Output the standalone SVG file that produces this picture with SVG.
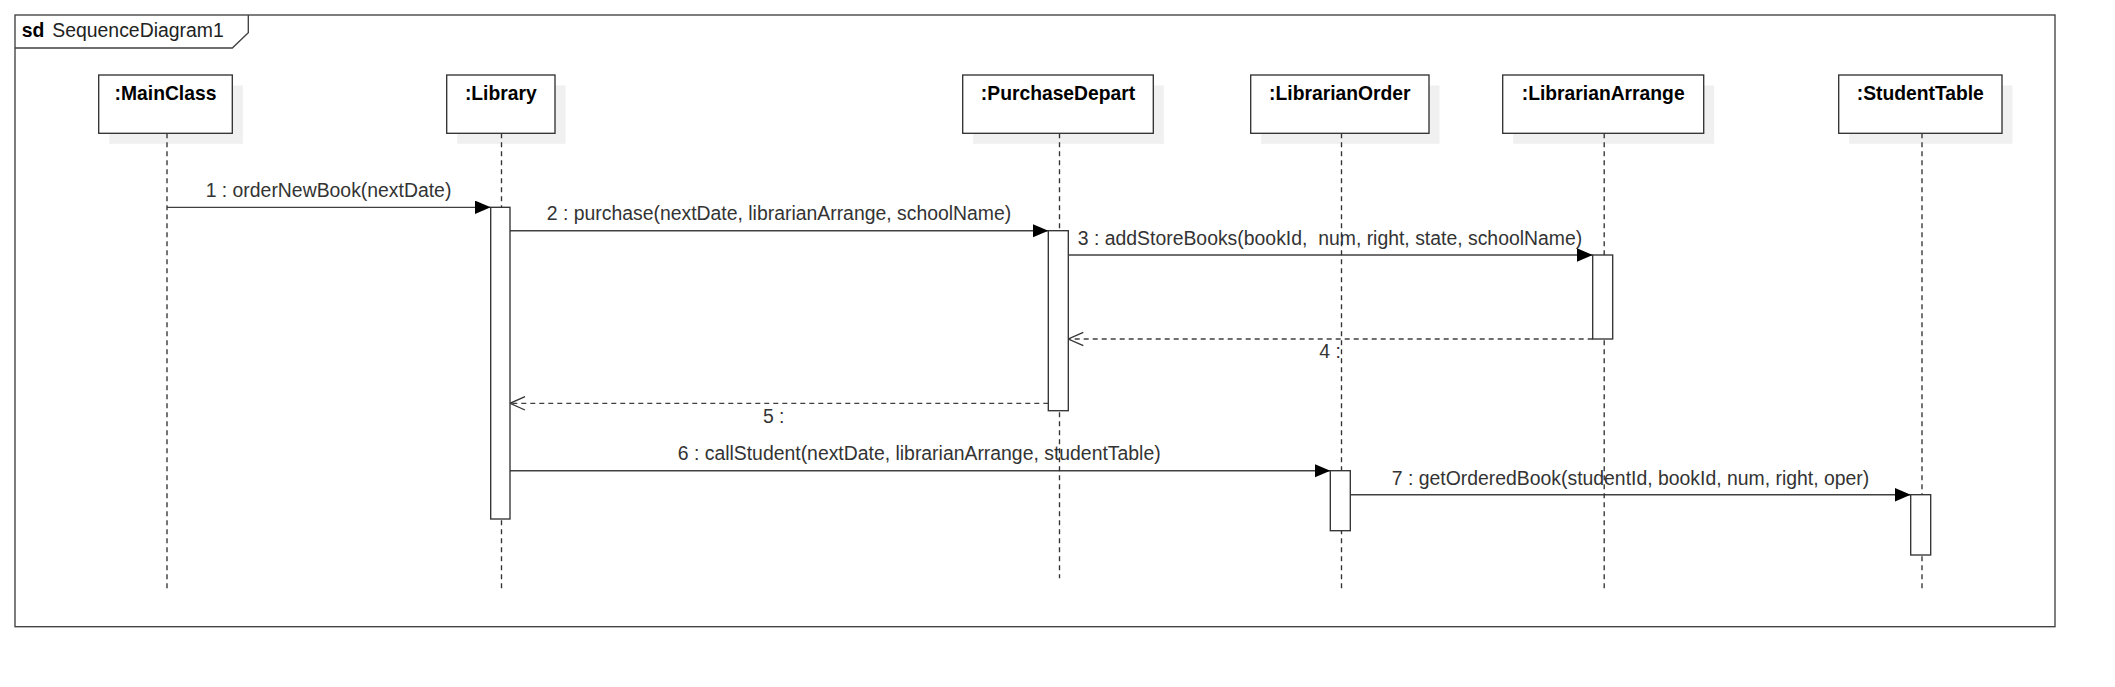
<svg xmlns="http://www.w3.org/2000/svg" width="2115" height="687" viewBox="0 0 2115 687">
  <style>
    .frame { fill: none; stroke: #404040; stroke-width: 1.35; }
    .head { fill: #ffffff; stroke: #333333; stroke-width: 1.35; }
    .shadow { fill: #f0f0f0; stroke: none; }
    .life { fill: none; stroke: #333333; stroke-width: 1.35; stroke-dasharray: 5 4; }
    .act { fill: #ffffff; stroke: #333333; stroke-width: 1.35; }
    .msg { fill: none; stroke: #404040; stroke-width: 1.35; }
    .ret { fill: none; stroke: #404040; stroke-width: 1.35; stroke-dasharray: 5 4; }
    .hl { font-family: "Liberation Sans", Arial, sans-serif; font-size: 19.3px; font-weight: bold; fill: #000000; text-anchor: middle; }
    .ml { font-family: "Liberation Sans", Arial, sans-serif; font-size: 19.4px; fill: #333333; text-anchor: middle; }
    .ft { font-family: "Liberation Sans", Arial, sans-serif; font-size: 19.4px; fill: #000000; }
  </style>
  <defs>
    <marker id="filled" markerUnits="userSpaceOnUse" markerWidth="17" markerHeight="15" refX="15.7" refY="6.7" orient="auto">
      <path d="M0,0 L15.7,6.7 L0,13.4 Z" fill="#000000" stroke="none"/>
    </marker>
    <marker id="open" markerUnits="userSpaceOnUse" markerWidth="18" markerHeight="17" refX="16" refY="7.7" orient="auto">
      <path d="M1,1 L16,7.7 L1,14.4" fill="none" stroke="#333333" stroke-width="1.35"/>
    </marker>
  </defs>

  <g id="frame">
    <rect class="frame" x="15" y="15" width="2040" height="611.7"/>
    <path class="frame" d="M15,48 L232.3,48 L248.3,32.7 L248.3,15"/>
    <text class="ft" y="36.7"><tspan x="21.7" font-weight="bold">sd</tspan><tspan x="52.3" fill="#222222">SequenceDiagram1</tspan></text>
  </g>

  <g id="connectors">
    <line class="msg" x1="167" y1="207.3" x2="490.7" y2="207.3" marker-end="url(#filled)"/>
    <text class="ml" x="328.5" y="196.7">1 : orderNewBook(nextDate)</text>

    <line class="msg" x1="510" y1="230.7" x2="1048.3" y2="230.7" marker-end="url(#filled)"/>
    <text class="ml" x="779" y="220">2 : purchase(nextDate, librarianArrange, schoolName)</text>

    <line class="msg" x1="1068.3" y1="255" x2="1592.7" y2="255" marker-end="url(#filled)"/>
    <text class="ml" x="1330" y="245" xml:space="preserve">3 : addStoreBooks(bookId,  num, right, state, schoolName)</text>

    <line class="ret" x1="1592.7" y1="339" x2="1068.3" y2="339" marker-end="url(#open)"/>
    <text class="ml" x="1330" y="358.3">4 :</text>

    <line class="ret" x1="1048.3" y1="403.3" x2="510" y2="403.3" marker-end="url(#open)"/>
    <text class="ml" x="773.7" y="423.3">5 :</text>

    <line class="msg" x1="510" y1="470.7" x2="1330.3" y2="470.7" marker-end="url(#filled)"/>
    <text class="ml" x="919.2" y="460">6 : callStudent(nextDate, librarianArrange, studentTable)</text>

    <line class="msg" x1="1350.3" y1="494.7" x2="1910.7" y2="494.7" marker-end="url(#filled)"/>
    <text class="ml" x="1630.5" y="485">7 : getOrderedBook(studentId, bookId, num, right, oper)</text>
  </g>

  <g id="MainClass">
    <rect class="shadow" x="109.3" y="85.5" width="133.6" height="58.3"/>
    <rect class="head" x="98.7" y="75" width="133.6" height="58.3"/>
    <text class="hl" x="165.5" y="100">:MainClass</text>
    <line class="life" x1="167" y1="133.3" x2="167" y2="589.3"/>
  </g>

  <g id="Library">
    <rect class="shadow" x="457.2" y="85.5" width="108.3" height="58.3"/>
    <rect class="head" x="446.7" y="75" width="108.3" height="58.3"/>
    <text class="hl" x="500.8" y="100">:Library</text>
    <line class="life" x1="501.5" y1="133.3" x2="501.5" y2="589.3"/>
    <rect class="act" x="490.7" y="207.3" width="19.3" height="311.7"/>
  </g>

  <g id="PurchaseDepart">
    <rect class="shadow" x="973.2" y="85.5" width="190.6" height="58.3"/>
    <rect class="head" x="962.7" y="75" width="190.6" height="58.3"/>
    <text class="hl" x="1058" y="100">:PurchaseDepart</text>
    <line class="life" x1="1059.5" y1="133.3" x2="1059.5" y2="578.3"/>
    <rect class="act" x="1048.3" y="230.7" width="20" height="180"/>
  </g>

  <g id="LibrarianOrder">
    <rect class="shadow" x="1261.2" y="85.5" width="178.3" height="58.3"/>
    <rect class="head" x="1250.7" y="75" width="178.3" height="58.3"/>
    <text class="hl" x="1339.8" y="100">:LibrarianOrder</text>
    <line class="life" x1="1341.5" y1="133.3" x2="1341.5" y2="589.3"/>
    <rect class="act" x="1330.3" y="470.7" width="20" height="60"/>
  </g>

  <g id="LibrarianArrange">
    <rect class="shadow" x="1513.2" y="85.5" width="201" height="58.3"/>
    <rect class="head" x="1502.7" y="75" width="201" height="58.3"/>
    <text class="hl" x="1603.2" y="100">:LibrarianArrange</text>
    <line class="life" x1="1604.2" y1="133.3" x2="1604.2" y2="589.3"/>
    <rect class="act" x="1592.7" y="255" width="20" height="84"/>
  </g>

  <g id="StudentTable">
    <rect class="shadow" x="1849.2" y="85.5" width="163.3" height="58.3"/>
    <rect class="head" x="1838.7" y="75" width="163.3" height="58.3"/>
    <text class="hl" x="1920.3" y="100">:StudentTable</text>
    <line class="life" x1="1922" y1="133.3" x2="1922" y2="589.3"/>
    <rect class="act" x="1910.7" y="494.7" width="20" height="60.3"/>
  </g>
</svg>
